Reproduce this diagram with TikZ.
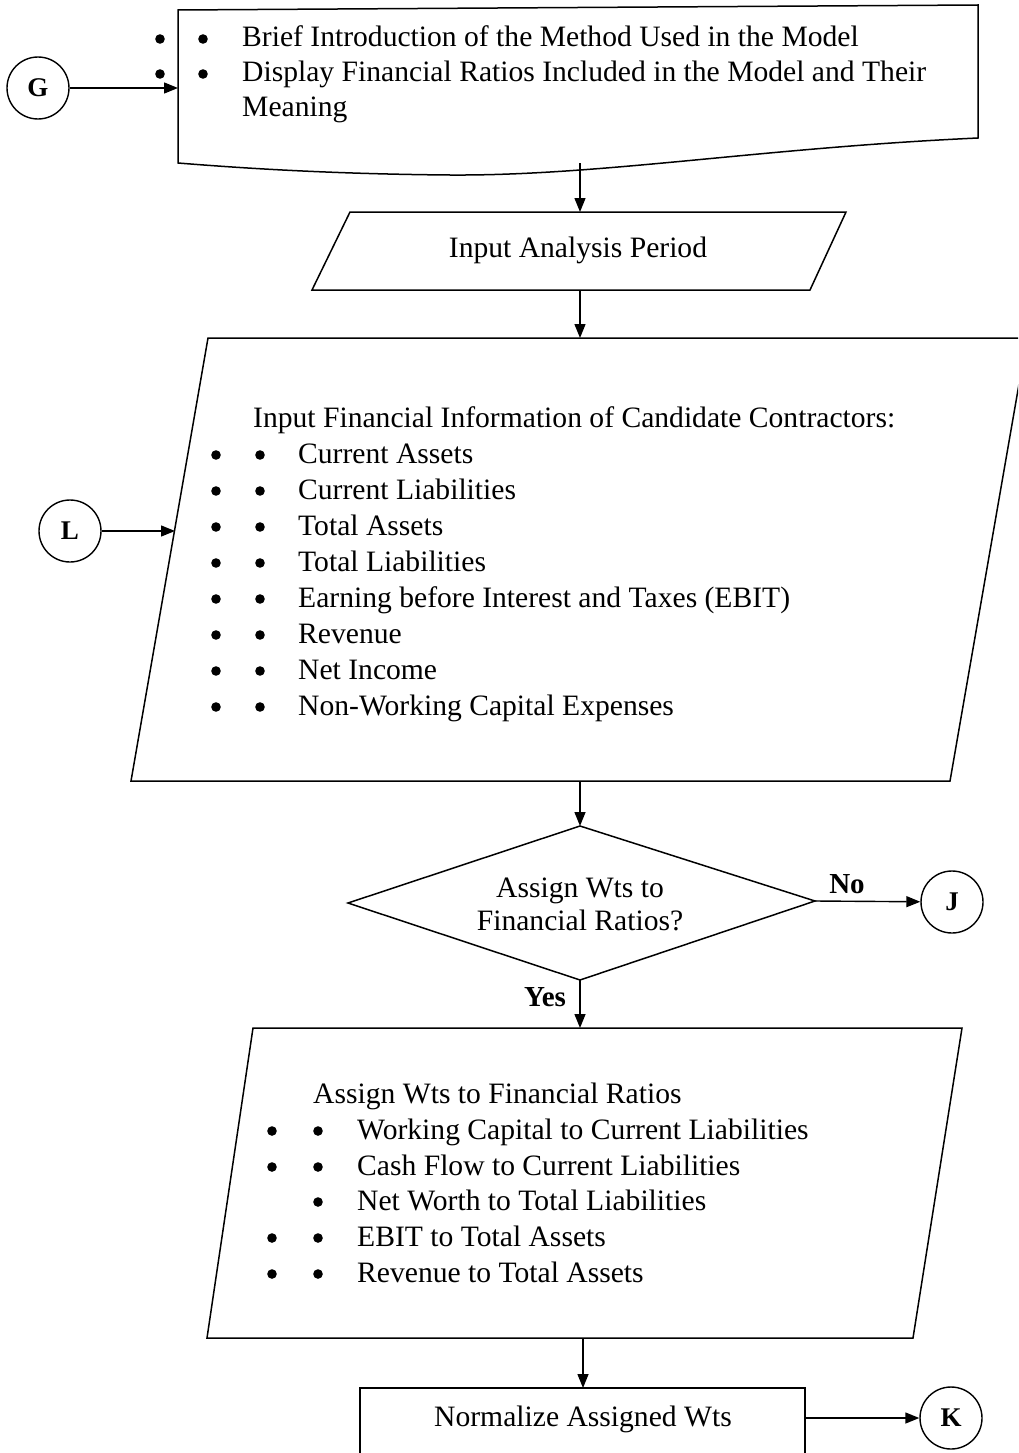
\documentclass[tikz,border=0pt]{standalone}
\usepackage{fontspec}
\setmainfont{Liberation Serif}
\usetikzlibrary{arrows.meta}
\begin{document}
\begin{tikzpicture}[x=1pt,y=-1pt,
  shapeline/.style={line width=1.5pt,line join=miter},
  flow/.style={line width=1.4pt,-{Triangle[length=14pt,width=11pt]}},
  conn/.style={circle,draw,line width=1.4pt,minimum size=62pt,inner sep=0pt,
    font=\bfseries\fontsize{27}{27}\selectfont},
  body/.style={inner sep=0pt,font=\fontsize{29.6}{36}\selectfont},
  line/.style={body,anchor=base west},
  centred/.style={body,anchor=base},
  tag/.style={inner sep=0pt,anchor=base,font=\bfseries\fontsize{29}{29}\selectfont}]

\newcommand\bul[2]{\fill (#1,#2-8) circle[radius=4.8pt];}

\path[use as bounding box] (0,0) rectangle (1018,1453);
\clip (0,0) rectangle (1018,1453);

% ---------- introduction (document shape) ----------
\draw[shapeline] (178,10) -- (978,5) -- (978,138)
  .. controls (760,148) and (600,176) .. (450,175)
  .. controls (330,174) and (240,168) .. (178,163) -- cycle;
\foreach \y in {47,82} {
  \bul{160}{\y}
  \bul{203}{\y}
}
\node[line] (intro1) at (242,47) {Brief Introduction of the Method Used in the Model};
\node[line] (intro2) at (242,82) {Display Financial Ratios Included in the Model and Their};
\node[line] (intro3) at (242,117) {Meaning};
\coordinate (introL) at (178,88);
\coordinate (introB) at (580,163);

\node[conn] (G) at (38,88) {G};
\draw[flow] (G) -- (introL);

% ---------- input analysis period ----------
\draw[shapeline] (350,212) -- (846,212) -- (810,290) -- (312,290) -- cycle;
\node[centred] (period) at (578,257) {Input Analysis Period};
\coordinate (periodT) at (580,212);
\coordinate (periodB) at (580,290);
\draw[flow] (introB) -- (periodT);

% ---------- financial information ----------
\draw[shapeline] (208,338) -- (1027,338) -- (950,781) -- (131,781) -- cycle;
\coordinate (infoT) at (580,338);
\coordinate (infoB) at (580,781);
\coordinate (infoL) at (175,531);
\draw[flow] (periodB) -- (infoT);
\node[line] (infohead) at (253,427) {Input Financial Information of Candidate Contractors:};
\foreach \t [count=\i] in {Current Assets,Current Liabilities,Total Assets,Total Liabilities,
  Earning before Interest and Taxes (EBIT),Revenue,Net Income,Non-Working Capital Expenses} {
  \pgfmathsetmacro{\yy}{427+36*\i}
  \bul{216}{\yy}
  \bul{260}{\yy}
  \node[line] (info\i) at (298,\yy) {\t};
}
\node[conn] (L) at (70,531) {L};
\draw[flow] (L) -- (infoL);

% ---------- decision ----------
\draw[shapeline] (580,826) -- (815,901) -- (580,980) -- (348,903) -- cycle;
\coordinate (decT) at (580,826);
\coordinate (decR) at (815,901);
\coordinate (decB) at (580,980);
\node[centred] (dec1) at (580,897) {Assign Wts to};
\node[centred] (dec2) at (580,930) {Financial Ratios?};
\draw[flow] (infoB) -- (decT);

\node[conn] (J) at (952,902) {J};
\draw[flow] (decR) -- (J);
\node[tag] (no) at (847,893) {No};

% ---------- assign weights ----------
\draw[shapeline] (253,1028) -- (962,1028) -- (913,1338) -- (207,1338) -- cycle;
\coordinate (wtsT) at (580,1028);
\coordinate (wtsB) at (583,1338);
\draw[flow] (decB) -- (wtsT);
\node[tag] (yes) at (545,1006) {Yes};
\node[line] (wtshead) at (313,1103) {Assign Wts to Financial Ratios};
\foreach \t/\yy [count=\i] in {Working Capital to Current Liabilities/1139,
  Cash Flow to Current Liabilities/1175,Net Worth to Total Liabilities/1210,
  EBIT to Total Assets/1246,Revenue to Total Assets/1282} {
  \bul{318}{\yy}
  \node[line] (wts\i) at (357,\yy) {\t};
}
\foreach \yy in {1139,1175,1246,1282} {
  \bul{272}{\yy}
}

% ---------- normalize ----------
\draw[shapeline] (360,1480) -- (360,1388) -- (805,1388) -- (805,1480);
\coordinate (normT) at (583,1388);
\coordinate (normR) at (805,1418);
\node[centred] (norm) at (583,1426) {Normalize Assigned Wts};
\draw[flow] (wtsB) -- (normT);

\node[conn] (K) at (951,1418) {K};
\draw[flow] (normR) -- (K);

\end{tikzpicture}
\end{document}
